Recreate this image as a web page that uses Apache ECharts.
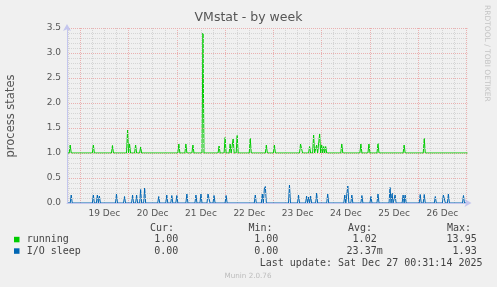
<!DOCTYPE html>
<html><head><meta charset="utf-8">
<script src="https://cdn.jsdelivr.net/npm/echarts@6/dist/echarts.min.js"></script>
<style>html,body{margin:0;padding:0;background:#f0f0f0}#c{width:497px;height:287px}</style>
</head><body><div id="c"></div>
<script>
// ---- data (x = hours since 19 Dec 00:00) ----
const chartTitle = 'VMstat - by week';
const yAxisName = 'process states';
const watermark = 'RRDTOOL / TOBI OETIKER';
const footer = 'Munin 2.0.76';
const lastUpdate = 'Last update: Sat Dec 27 00:31:14 2025';
const dayLabels = ['19 Dec','20 Dec','21 Dec','22 Dec','23 Dec','24 Dec','25 Dec','26 Dec'];
const dayLabelHours = [12,36,60,84,108,132,156,180];
const dayBoundaryHours = [0,24,48,72,96,120,144,168,192];
const xStartHour = -6.6;
const xEndHour = 192.5;

const runningBase = 1.0;
const runningSpikeHours  = [-5.0,6.5,16.0,23.5,24.5,27.5,30.0,49.0,52.5,56.0,61.0,69.0,72.0,74.5,76.0,78.0,84.5,92.5,96.5,109.5,110.0,114.0,116.0,117.5,119.0,120.0,121.0,122.0,130.0,139.5,143.5,148.0,161.0,171.0];
const runningSpikeValues = [1.16,1.16,1.15,1.46,1.18,1.16,1.12,1.18,1.18,1.16,3.40,1.14,1.31,1.18,1.28,1.35,1.29,1.16,1.16,1.18,1.16,1.13,1.36,1.16,1.38,1.16,1.13,1.13,1.18,1.18,1.18,1.19,1.16,1.29];

const ioBase = 0.0;
const ioSpikeHours  = [-4.5,6.5,8.5,9.5,18.0,22.0,26.0,28.0,30.0,32.0,39.0,43.0,45.5,48.0,53.0,57.5,60.0,63.5,64.0,66.5,72.5,87.0,90.5,91.5,92.0,104.0,108.5,112.5,113.5,114.5,117.5,123.0,131.5,133.0,135.0,140.0,144.5,148.0,154.0,155.0,156.5,160.5,161.5,169.0,171.0,176.5,180.5,181.0,183.0,190.5];
const ioSpikeValues = [0.16,0.16,0.16,0.14,0.18,0.13,0.16,0.16,0.27,0.30,0.13,0.16,0.15,0.15,0.18,0.16,0.18,0.18,0.15,0.15,0.15,0.16,0.18,0.28,0.33,0.36,0.16,0.14,0.12,0.14,0.20,0.18,0.16,0.34,0.16,0.15,0.13,0.18,0.31,0.20,0.16,0.16,0.16,0.17,0.17,0.13,0.16,0.15,0.18,0.15];

const seriesNames = ['running','I/O sleep'];
const seriesColors = ['#00cc00','#0066b3'];
const statHeaders = ['Cur:','Min:','Avg:','Max:'];
const statCur = ['1.00','0.00'];
const statMin = ['1.00','0.00'];
const statAvg = ['1.02','23.37m'];
const statMax = ['13.95','1.93'];

// ---- build ----
function buildPoints(hours, values, base){
  const pts=[[xStartHour, base]];
  for(let i=0;i<hours.length;i++){
    const t=hours[i];
    const prev=i>0?hours[i-1]:-Infinity;
    const next=i<hours.length-1?hours[i+1]:Infinity;
    if(t-prev>=1) pts.push([t-0.5, base]);
    pts.push([t, values[i]]);
    if(next-t>=1) pts.push([t+0.5, base]);
  }
  pts.push([xEndHour, base]);
  return pts;
}
const minorHours=[];
for(let h=-6;h<=192;h+=6){ if(h%24!==0) minorHours.push(h); }

const FONT='DejaVu Sans';
const MONO='DejaVu Sans Mono';
const red={color:'#eab0b0',type:[1,1],width:1};
const gray={color:'#d4d4d4',type:[1,1],width:1};
const axisCol='#c4c6ee';

const chart=echarts.init(document.getElementById('c'),null,{renderer:'canvas'});
const graphics=[];
graphics.push({type:'text',x:11,y:116,rotation:Math.PI/2,style:{text:yAxisName,font:'11.5px '+FONT,fill:'#555',align:'center',verticalAlign:'middle'}});
graphics.push({type:'text',x:487,y:5,rotation:-Math.PI/2,style:{text:watermark,font:'7.5px '+FONT,fill:'#c4c4c4',align:'left',verticalAlign:'middle'}});
const headX=[150,248.5,348,447];
statHeaders.forEach((h,i)=>graphics.push({type:'text',x:headX[i],y:228.5,style:{text:h,font:'10px '+MONO,fill:'#444',align:'left',verticalAlign:'middle'}}));
const colRight=[184.3,284.3,382.7,482.7];
const rowsY=[239.5,251];
function pad(s){return /\d$/.test(s)?s+' ':s;}
seriesNames.forEach((n,r)=>{
  graphics.push({type:'rect',shape:{x:14,y:rowsY[r]-2.7,width:5.5,height:5.5},style:{fill:seriesColors[r]}});
  graphics.push({type:'text',x:26.7,y:rowsY[r],style:{text:n,font:'10px '+MONO,fill:'#444',align:'left',verticalAlign:'middle'}});
  [statCur,statMin,statAvg,statMax].forEach((arr,c)=>{
    graphics.push({type:'text',x:colRight[c],y:rowsY[r],style:{text:pad(arr[r]),font:'10px '+MONO,fill:'#444',align:'right',verticalAlign:'middle'}});
  });
});
graphics.push({type:'text',x:482.5,y:263.5,style:{text:lastUpdate,font:'10px '+MONO,fill:'#444',align:'right',verticalAlign:'middle'}});
graphics.push({type:'text',x:248,y:276.5,style:{text:footer,font:'7.2px '+FONT,fill:'#bdbdbd',align:'center',verticalAlign:'middle'}});

chart.setOption({
  animation:false,
  backgroundColor:'#f0f0f0',
  title:{text:chartTitle,left:'center',top:11,padding:0,textStyle:{fontFamily:FONT,fontSize:12.5,fontWeight:'normal',color:'#555'}},
  grid:{left:67,right:29.5,top:28,bottom:84,containLabel:false},
  xAxis:[
    {type:'value',position:'bottom',min:xStartHour,max:xEndHour,axisLine:{show:false},axisLabel:{show:false},
     axisTick:{show:false,customValues:minorHours},splitLine:{show:true,lineStyle:gray}},
    {type:'value',position:'bottom',min:xStartHour,max:xEndHour,axisLine:{show:false},
     axisTick:{show:false,customValues:dayBoundaryHours},
     axisLabel:{show:true,customValues:dayLabelHours,margin:6,fontFamily:FONT,fontSize:9,color:'#555',
       formatter:v=>{const i=dayLabelHours.indexOf(Math.round(v));return i>=0?dayLabels[i]:'';}},
     splitLine:{show:true,lineStyle:red}},
    {type:'value',position:'bottom',min:xStartHour,max:xEndHour,z:5,
     axisLine:{show:true,onZero:false,lineStyle:{color:axisCol,width:1},symbol:['none','arrow'],symbolSize:[6,7],symbolOffset:[0,4]},
     axisTick:{show:false},axisLabel:{show:false},splitLine:{show:false}}
  ],
  yAxis:[{type:'value',min:0,max:3.5,interval:0.5,z:5,
    axisLine:{show:true,onZero:false,lineStyle:{color:axisCol,width:1},symbol:['none','arrow'],symbolSize:[6,7],symbolOffset:[0,4]},
    axisTick:{show:false},
    axisLabel:{margin:6,fontFamily:FONT,fontSize:9,color:'#555',formatter:v=>v.toFixed(1)},
    splitLine:{show:true,lineStyle:red},
    minorTick:{show:false,splitNumber:5},
    minorSplitLine:{show:true,lineStyle:gray}}],
  series:[
    {name:seriesNames[0],type:'line',xAxisIndex:1,yAxisIndex:0,data:buildPoints(runningSpikeHours,runningSpikeValues,runningBase),
     showSymbol:false,symbol:'none',lineStyle:{color:seriesColors[0],width:1},itemStyle:{color:seriesColors[0]}},
    {name:seriesNames[1],type:'line',xAxisIndex:1,yAxisIndex:0,data:buildPoints(ioSpikeHours,ioSpikeValues,ioBase),
     showSymbol:false,symbol:'none',lineStyle:{color:seriesColors[1],width:1},itemStyle:{color:seriesColors[1]}}
  ],
  graphic:graphics
});
</script></body></html>
